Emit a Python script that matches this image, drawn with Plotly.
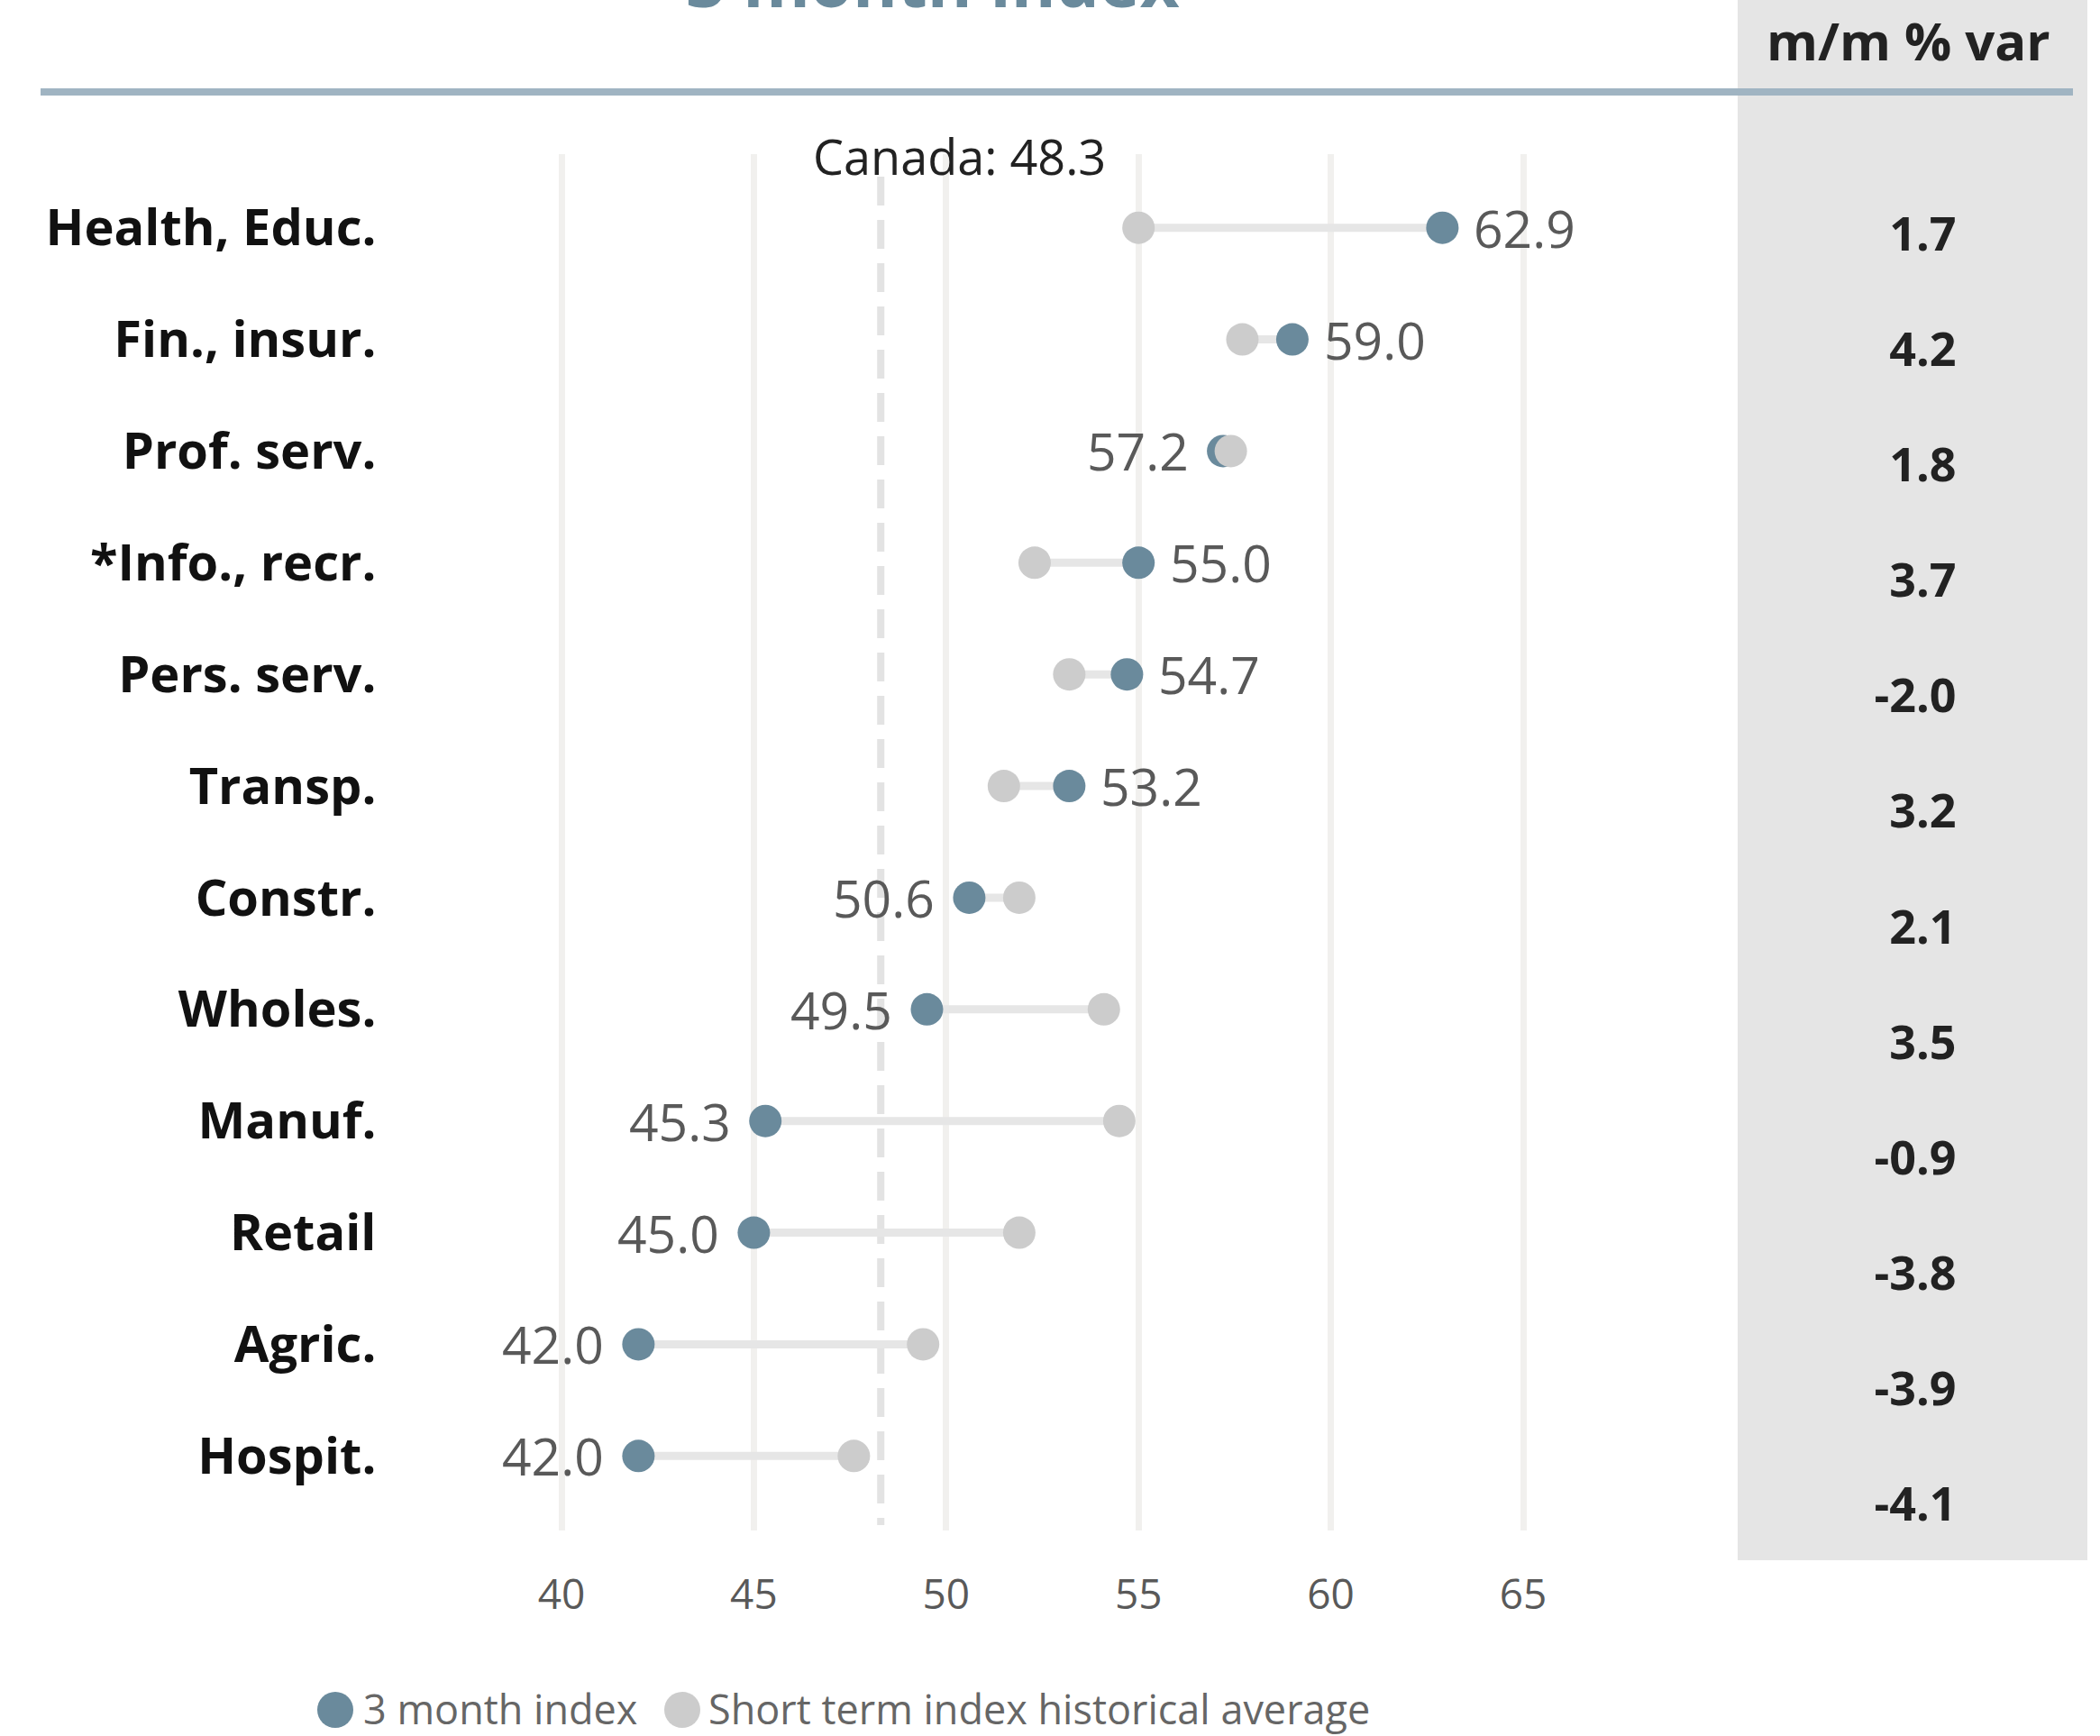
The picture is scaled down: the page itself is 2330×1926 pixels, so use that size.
import plotly.graph_objects as go

# Sector data
sectors = ["Health, Educ.", "Fin., insur.", "Prof. serv.", "*Info., recr.", "Pers. serv.",
           "Transp.", "Constr.", "Wholes.", "Manuf.", "Retail", "Agric.", "Hospit."]
index_3m = [62.9, 59.0, 57.2, 55.0, 54.7, 53.2, 50.6, 49.5, 45.3, 45.0, 42.0, 42.0]
hist_avg = [55.0, 57.7, 57.4, 52.3, 53.2, 51.5, 51.9, 54.1, 54.5, 51.9, 49.4, 47.6]
mm_var = [1.7, 4.2, 1.8, 3.7, -2.0, 3.2, 2.1, 3.5, -0.9, -3.8, -3.9, -4.1]
canada = 48.3
x_ticks = [40, 45, 50, 55, 60, 65]

W, H = 2330, 1926
BLUE = "#6a8a9c"
GREY = "#cccccc"
LABEL_GREY = "#595959"


def px(p):
    return p / W


def py(p):
    return 1 - p / H


fig = go.Figure()

# connectors between the two dots of each row
cx, cy = [], []
for s, a, b in zip(sectors, hist_avg, index_3m):
    cx += [a, b, None]
    cy += [s, s, None]
fig.add_trace(go.Scatter(x=cx, y=cy, mode="lines", line=dict(color="#e6e6e6", width=9),
                         hoverinfo="skip", showlegend=False))

fig.add_trace(go.Scatter(x=index_3m, y=sectors, mode="markers", name="3 month index",
                         marker=dict(color=BLUE, size=36), showlegend=False))
fig.add_trace(go.Scatter(x=hist_avg, y=sectors, mode="markers",
                         name="Short term index historical average",
                         marker=dict(color=GREY, size=36), showlegend=False))

# m/m % var column
fig.add_trace(go.Scatter(x=[0.625] * len(sectors), y=sectors, mode="text",
                         text=[f"{v:.1f}" for v in mm_var], textposition="middle left",
                         textfont=dict(family="Open Sans", size=52, color="#222222",
                                       weight="bold"),
                         xaxis="x2", yaxis="y2", hoverinfo="skip", showlegend=False))

annotations = []
# value labels next to the 3 month index dots
for s, v, h in zip(sectors, index_3m, hist_avg):
    right = v >= h
    annotations.append(dict(
        x=v, y=s, xref="x", yref="y", text=f"{v:.1f}", showarrow=False,
        xanchor="left" if right else "right", yanchor="middle",
        xshift=33 if right else -36,
        font=dict(family="Open Sans", size=57, color=LABEL_GREY)))

annotations += [
    dict(x=canada, y=py(173), xref="x", yref="paper", text=f"Canada: {canada}",
         showarrow=False, xanchor="center", yanchor="middle", xshift=87,
         font=dict(family="Open Sans", size=54, color="#222222")),
    dict(x=px(1035), y=py(32), xref="paper", yref="paper", text="<b>3 month index</b>",
         showarrow=False, xanchor="center", yanchor="bottom",
         font=dict(family="Open Sans", size=76, color=BLUE)),
    dict(x=px(2117), y=py(45), xref="paper", yref="paper", text="<b>m/m % var</b>",
         showarrow=False, xanchor="center", yanchor="middle",
         font=dict(family="Open Sans", size=58, color="#222222")),
    dict(x=px(401), y=py(1895), xref="paper", yref="paper", text="3 month index",
         showarrow=False, xanchor="left", yanchor="middle",
         font=dict(family="Open Sans", size=45, color="#666666")),
    dict(x=px(784), y=py(1895), xref="paper", yref="paper",
         text="Short term index historical average",
         showarrow=False, xanchor="left", yanchor="middle",
         font=dict(family="Open Sans", size=45, color="#666666")),
]

shapes = [
    # shaded column for the monthly variation
    dict(type="rect", xref="paper", yref="paper", x0=px(1928), x1=px(2316), y0=py(1731), y1=1,
         fillcolor="#e5e5e5", line=dict(width=0), layer="below"),
    # header rule
    dict(type="line", xref="paper", yref="paper", x0=px(45), x1=px(2300), y0=py(102), y1=py(102),
         line=dict(color="#a0b4c2", width=8), layer="below"),
    # Canada reference line
    dict(type="line", xref="x", yref="paper", x0=canada, x1=canada, y0=py(196), y1=py(1692),
         line=dict(color="#e3e3e3", width=8, dash="32px,16px"), layer="below"),
    # legend symbols
    dict(type="circle", xref="paper", yref="paper", x0=px(352), x1=px(392), y0=py(1917), y1=py(1877),
         fillcolor=BLUE, line=dict(width=0)),
    dict(type="circle", xref="paper", yref="paper", x0=px(737), x1=px(777), y0=py(1917), y1=py(1877),
         fillcolor=GREY, line=dict(width=0)),
]

fig.update_layout(
    width=W, height=H,
    margin=dict(l=0, r=0, t=0, b=0),
    paper_bgcolor="white", plot_bgcolor="rgba(0,0,0,0)",
    showlegend=False,
    xaxis=dict(domain=[px(422.4), px(1903.4)], range=[35.3, 70], tickvals=x_ticks,
               showgrid=True, gridcolor="#f1f0ee", gridwidth=7, zeroline=False,
               showline=False, ticks="", ticklabelstandoff=40,
               tickfont=dict(family="Open Sans", size=46, color=LABEL_GREY)),
    yaxis=dict(domain=[py(1698), py(171)], type="category", categoryarray=sectors,
               range=[11.667, -0.659], showgrid=False, zeroline=False, showline=False,
               ticks="", ticklabelstandoff=4,
               tickfont=dict(family="Open Sans", size=56, color="#111111", weight="bold")),
    xaxis2=dict(domain=[px(1928), px(2316)], range=[0, 1], visible=False, anchor="y2"),
    yaxis2=dict(domain=[py(1738), py(201)], type="category", categoryarray=sectors,
                range=[11.5, -0.5], visible=False, anchor="x2"),
    annotations=annotations,
    shapes=shapes,
)

fig.write_html("out.html")
